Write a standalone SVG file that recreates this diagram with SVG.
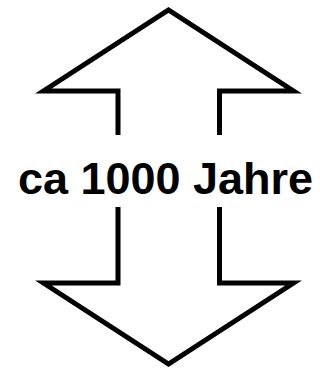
<svg xmlns="http://www.w3.org/2000/svg" width="320" height="369" viewBox="0 0 320 369">
<style>
.arrow{fill:none;stroke:#000;stroke-width:5;stroke-linejoin:miter;stroke-miterlimit:10}
.label{font-family:"Liberation Sans",Arial,sans-serif;font-weight:bold;font-size:45px;fill:#000}
</style>
<rect width="320" height="369" fill="#fff"/>
<g id="connectors">
<path id="arrow-up" class="arrow" d="M118,135 V91 H43.5 L168.5,10 L293.5,91 H219.5 V135"/>
<path id="arrow-down" class="arrow" d="M118,207 V283 H43.5 L168.5,364 L293.5,283 H219.5 V207"/>
</g>
<g id="label">
<text class="label" x="165.5" y="194" text-anchor="middle">ca 1000 Jahre</text>
</g>
</svg>
